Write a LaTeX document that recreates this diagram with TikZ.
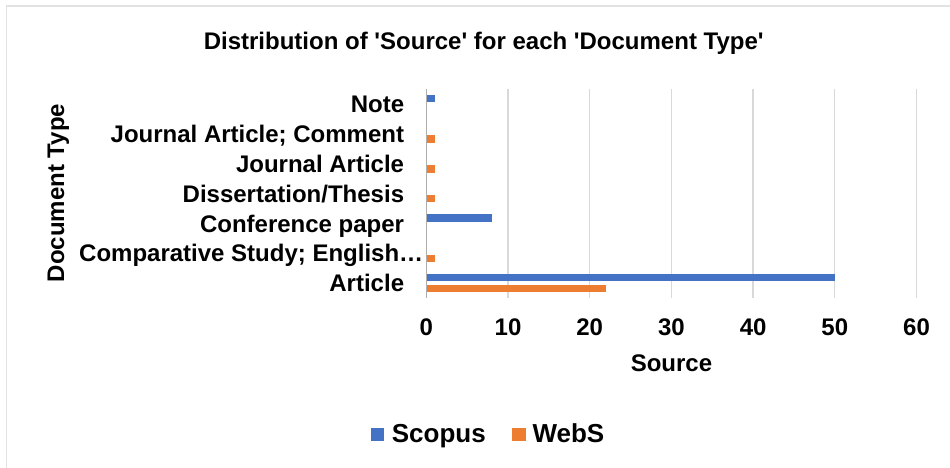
\documentclass[tikz,border=0pt]{standalone}
\usepackage{fontspec}
\setmainfont{Liberation Sans}[Ligatures=TeXOff]
\definecolor{scop}{HTML}{4472C4}
\definecolor{webs}{HTML}{ED7D31}
\definecolor{gridc}{HTML}{D9D9D9}
\definecolor{framec}{HTML}{E2E2E2}
\begin{document}
\begin{tikzpicture}[x=1pt,y=-1pt,
  lbl/.style={font=\fontsize{24}{28}\selectfont\bfseries, inner sep=0pt},
  leg/.style={font=\fontsize{26}{30}\selectfont\bfseries, inner sep=0pt},
  gridline/.style={draw=gridc, line width=1.3pt},
  axisline/.style={draw=gridc!80!black, line width=1.3pt},
  bluebar/.style={fill=scop},
  orangebar/.style={fill=webs}]
\useasboundingbox (0,0) rectangle (950,468);
\fill[white] (0,0) rectangle (950,468);
% frame
\draw[framec, line width=1.5pt] (6.7,470) -- (6.7,6) -- (952,6);
% title
\node[lbl, anchor=base] (title) at (483.7,50) {Distribution of 'Source' for each 'Document Type'};
% grid
\foreach \v in {10,20,30,40,50,60}{
  \draw[gridline] ({426.3+8.17*\v},89.3) -- ({426.3+8.17*\v},298.3);
}
\draw[axisline] (426.3,89.3) -- (426.3,298.3);
% bars
\fill[bluebar]   (427,94.7)  rectangle (434.5,102.0);
\fill[orangebar] (427,135.3) rectangle (434.5,142.6);
\fill[orangebar] (427,165.2) rectangle (434.5,172.5);
\fill[orangebar] (427,195.0) rectangle (434.5,202.3);
\fill[bluebar]   (427,214.2) rectangle (491.7,221.5);
\fill[orangebar] (427,254.7) rectangle (434.5,262.0);
\fill[bluebar]   (427,273.9) rectangle (834.8,281.2);
\fill[orangebar] (427,284.6) rectangle (606.0,291.9);
% category labels
\node[lbl, anchor=base east] (cnote) at (404.3,112.5) {Note};
\node[lbl, anchor=base east] (cjac)  at (404.3,142.4) {Journal Article; Comment};
\node[lbl, anchor=base east] (cja)   at (404.3,172.3) {Journal Article};
\node[lbl, anchor=base east] (cdiss) at (404.3,202.1) {Dissertation/Thesis};
\node[lbl, anchor=base east] (cconf) at (404.3,232.0) {Conference paper};
\node[lbl, anchor=base west] (ccomp) at (79,261.8) {Comparative Study; English…};
\node[lbl, anchor=base east] (cart)  at (404.3,291.7) {Article};
% x tick labels
\foreach \v in {0,10,20,30,40,50,60}{
  \node[lbl, anchor=base] (t\v) at ({426.3+8.17*\v},335) {\v};
}
% axis titles
\node[lbl, anchor=base] (xtitle) at (671.5,371) {Source};
\node[lbl, anchor=base, rotate=90] (ytitle) at (64,193) {Document Type};
% legend
\fill[scop] (371,427.7) rectangle (384.3,441);
\node[leg, anchor=base west] (lscop) at (391.7,442.7) {Scopus};
\fill[webs] (512.3,427.7) rectangle (525.7,441);
\node[leg, anchor=base west] (lwebs) at (532.3,442.7) {WebS};
\end{tikzpicture}
\end{document}
